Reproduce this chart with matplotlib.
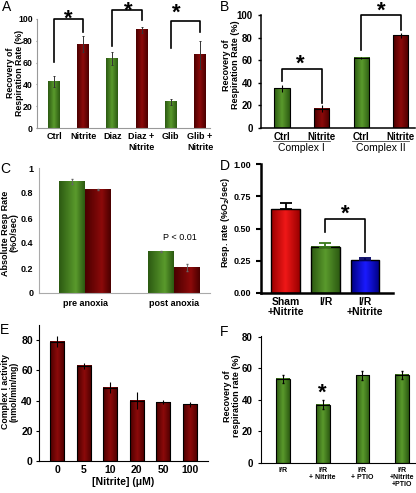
import numpy as np
import matplotlib
matplotlib.use('Agg')
import matplotlib.pyplot as plt
from matplotlib.colors import LinearSegmentedColormap

plt.rcParams['font.family'] = ['Liberation Sans', 'DejaVu Sans']

# ---- data ----
a_labels = ['Ctrl', 'Nitrite', 'Diaz', 'Diaz +\nNitrite', 'Glib', 'Glib +\nNitrite']
a_vals = [43, 77, 64, 90, 24, 67]
a_err = [5, 7, 6, 3, 3, 13]

b_labels = ['Ctrl', 'Nitrite', 'Ctrl', 'Nitrite']
b_groups = ['Complex I', 'Complex II']
b_vals = [35, 17, 62, 82]
b_err = [3, 3, 1, 2]

c_groups = ['pre anoxia', 'post anoxia']
c_green = [0.89, 0.33]
c_green_err = [0.02, 0.005]
c_red = [0.83, 0.205]
c_red_err = [0.005, 0.03]

d_labels = ['Sham\n+Nitrite', 'I/R', 'I/R\n+Nitrite']
d_vals = [0.65, 0.36, 0.255]
d_err = [0.05, 0.03, 0.015]

e_labels = ['0', '5', '10', '20', '50', '100']
e_vals = [79, 63, 48.5, 40, 39, 37.5]
e_err = [3.5, 2, 3.5, 5.5, 1.5, 1.5]

f_labels = ['I/R', 'I/R\n+ Nitrite', 'I/R\n+ PTIO', 'I/R\n+Nitrite\n+PTIO']
f_vals = [53.5, 37, 55.5, 56]
f_err = [2.5, 3, 3, 2.5]

GREEN = ('#2c5a12', '#5a9a2c')
RED = ('#4a0000', '#8c0a0a')
BRED = ('#9a0000', '#f01818')
BBLUE = ('#000080', '#1a1aff')

W, H = 416, 493


def axes_px(l, r, b, t):
    return fig.add_axes([l / W, 1 - b / H, (r - l) / W, (b - t) / H])


def ylabel_px(txt, cx, cy, fs=6.5):
    fig.text(cx / W, 1 - cy / H, txt, rotation=90, ha='center', va='center',
             fontsize=fs, fontweight='bold', linespacing=0.95)


def grad_bars(ax, x, h, w, cols, ec='none', lw=0, peak=0.55):
    bars = ax.bar(x, h, w, color='none', edgecolor=ec, linewidth=lw, zorder=3)
    cmap = LinearSegmentedColormap.from_list('g', [(0, cols[0]), (peak, cols[1]), (1, cols[0])])
    for b in bars:
        x0, y0 = b.get_x(), b.get_y()
        ax.imshow(np.linspace(0, 1, 64)[None, :], cmap=cmap, aspect='auto',
                  extent=(x0, x0 + b.get_width(), y0, y0 + b.get_height()), zorder=2)
    return bars


def star(ax, x, y):
    # shift down so the glyph (which sits high in its box) is centred on y
    ax.annotate('*', xy=(x, y), xytext=(0, -4.5), textcoords='offset points',
                ha='center', va='center', fontsize=16, fontweight='bold', annotation_clip=False)


def bracket(ax, x1, x2, top, y1, y2, star_y, star_x=None, lw=1.2):
    ax.plot([x1, x1, x2, x2], [y1, top, top, y2], color='black', lw=lw, clip_on=False, zorder=5)
    star(ax, (x1 + x2) / 2 if star_x is None else star_x, star_y)


fig = plt.figure(figsize=(W / 100, H / 100), dpi=100)

# ---- A ----
ax = axes_px(37, 210, 128, 19)
xa = np.arange(len(a_vals))
cols = [GREEN, RED] * 3
for i in xa:
    grad_bars(ax, [i], [a_vals[i]], 0.41, cols[i], peak=0.5)
    ax.errorbar(i, a_vals[i], yerr=a_err[i], color='#333333', lw=0.7, capsize=1, capthick=0.7, zorder=4)
ax.set_xlim(-0.58, 5.34)
ax.set_ylim(0, 100)
ax.set_yticks([0, 20, 40, 60, 80, 100])
ax.set_xticks(xa)
ax.set_xticklabels(a_labels, fontsize=6.5, fontweight='bold')
ax.tick_params(axis='y', labelsize=6.3, length=1, pad=2, color='#888888')
ax.tick_params(axis='x', length=0, pad=3)
for t in ax.get_yticklabels():
    t.set_fontweight('bold')
for s in ['top', 'right']:
    ax.spines[s].set_visible(False)
for s in ['left', 'bottom']:
    ax.spines[s].set_color('#999999')
    ax.spines[s].set_linewidth(0.8)
ylabel_px('Recovery of\nRespiration Rate (%)', 15, 73, fs=6.3)
bracket(ax, 0, 1, 100, 61, 88, 105.5)
bracket(ax, 2, 3, 108, 75, 99, 113, star_x=2.55)
bracket(ax, 4, 5, 98, 73, 88, 111, star_x=4.2)

# ---- B ----
ax = axes_px(261, 415, 128, 15)
xb = np.arange(len(b_vals))
cols = [GREEN, RED, GREEN, RED]
for i in xb:
    grad_bars(ax, [i], [b_vals[i]], 0.38, cols[i], ec='black', lw=0.8, peak=0.5)
    ax.errorbar(i, b_vals[i], yerr=b_err[i], color='black', lw=0.8, capsize=0, zorder=4)
ax.set_xlim(-0.53, 3.36)
ax.set_ylim(0, 100)
ax.set_yticks([0, 20, 40, 60, 80, 100])
ax.set_xticks(xb)
ax.set_xticklabels(b_labels, fontsize=7, fontweight='bold')
ax.tick_params(axis='y', labelsize=7, length=2.5, width=1)
ax.tick_params(axis='x', length=0, pad=3)
for t in ax.get_yticklabels():
    t.set_fontweight('bold')
for s in ['top', 'right']:
    ax.spines[s].set_visible(False)
for s in ['left', 'bottom']:
    ax.spines[s].set_linewidth(1.1)
ylabel_px('Recovery of\nRespiration Rate (%)', 231, 65)
for g, name in enumerate(b_groups):
    x0, x1 = 2 * g - 0.22, 2 * g + 1.22
    ax.plot([x0, x1], [-11.5, -11.5], color='#444444', lw=0.6, clip_on=False)
    ax.text(2 * g + 0.5, -13, name, ha='center', va='top', fontsize=7.5)
bracket(ax, 0, 1, 52, 42, 22, 62, star_x=0.45)
bracket(ax, 2, 3, 100, 69, 87, 109, star_x=2.5)

# ---- C ----
ax = axes_px(39, 210, 293, 168)
xc = np.arange(len(c_groups))
grad_bars(ax, xc - 0.145, c_green, 0.29, GREEN, peak=0.65)
grad_bars(ax, xc + 0.145, c_red, 0.29, RED, peak=0.65)
ax.errorbar(xc - 0.145, c_green, yerr=c_green_err, fmt='none', ecolor='#666666', lw=0.6, capsize=1, zorder=4)
ax.errorbar(xc + 0.145, c_red, yerr=c_red_err, fmt='none', ecolor='#666666', lw=0.6, capsize=1, zorder=4)
ax.set_xlim(-0.52, 1.41)
ax.set_ylim(0, 1)
ax.set_yticks([0, 0.2, 0.4, 0.6, 0.8, 1])
ax.set_yticklabels(['0', '0.2', '0.4', '0.6', '0.8', '1'], fontsize=6.5, fontweight='bold')
ax.set_xticks(xc)
ax.set_xticklabels(c_groups, fontsize=6.5, fontweight='bold')
ax.tick_params(axis='both', length=0, pad=4)
for s in ['top', 'right']:
    ax.spines[s].set_visible(False)
for s in ['left', 'bottom']:
    ax.spines[s].set_color('#aaaaaa')
    ax.spines[s].set_linewidth(0.8)
ylabel_px('Absolute Resp Rate\n(%O/sec)', 10, 233)
ax.text(1.07, 0.44, 'P < 0.01', ha='center', va='center', fontsize=6.5)

# ---- D ----
ax = axes_px(261, 393, 293, 164)
xd = np.arange(len(d_vals))
dcols = [BRED, GREEN, BBLUE]
ecols = ['black', '#3a7a1a', '#000060']
for i in xd:
    grad_bars(ax, [i], [d_vals[i]], 0.73, dcols[i], ec='black', lw=1.0, peak=0.5)
    ax.errorbar(i, d_vals[i], yerr=[[0], [d_err[i]]], color=ecols[i], lw=1.3, capsize=4.5, capthick=1.3, zorder=4)
ax.set_xlim(-0.63, 2.71)
ax.set_ylim(0, 1.0)
ax.set_yticks([0, 0.25, 0.5, 0.75, 1.0])
ax.set_yticklabels(['0.00', '0.25', '0.50', '0.75', '1.00'], fontsize=6.5, fontweight='bold')
ax.set_xticks(xd)
ax.set_xticklabels(d_labels, fontsize=7.5, fontweight='bold', linespacing=0.95)
ax.tick_params(axis='y', length=3.5, width=1.5)
ax.tick_params(axis='x', length=0, pad=3)
for s in ['top', 'right']:
    ax.spines[s].set_visible(False)
for s in ['left', 'bottom']:
    ax.spines[s].set_linewidth(1.8)
ylabel_px('Resp. rate (%O$_\\mathbf{2}$/sec)', 226, 223)
bracket(ax, 1, 2, 0.57, 0.475, 0.32, 0.66)

# ---- E ----
ax = axes_px(39, 208, 461, 325)
xe = np.arange(len(e_vals))
grad_bars(ax, xe, e_vals, 0.53, RED, ec='black', lw=0.8, peak=0.5)
ax.errorbar(xe, e_vals, yerr=e_err, fmt='none', ecolor='black', lw=0.8, capsize=0, zorder=4)
ax.set_xlim(-0.68, 5.68)
ax.set_ylim(0, 90)
ax.set_yticks([0, 20, 40, 60, 80])
ax.set_xticks(xe)
ax.set_xticklabels(e_labels, fontsize=7.5, fontweight='bold')
ax.tick_params(axis='y', labelsize=7.5, length=2.5, width=0.8, pad=2)
ax.tick_params(axis='x', length=0, pad=3)
for t in ax.get_yticklabels():
    t.set_fontweight('bold')
for s in ['top', 'right']:
    ax.spines[s].set_visible(False)
ax.set_xlabel('[Nitrite] (μM)', fontsize=7.5, fontweight='bold', labelpad=1)
ylabel_px('Complex I activity\n(nmol/min/mg)', 10, 392, fs=6.3)

# ---- F ----
ax = axes_px(261, 415, 463, 336)
xf = np.arange(len(f_vals))
grad_bars(ax, xf, f_vals, 0.35, GREEN, ec='black', lw=0.8, peak=0.5)
ax.errorbar(xf, f_vals, yerr=f_err, fmt='none', ecolor='black', lw=0.8, capsize=1, zorder=4)
ax.set_xlim(-0.55, 3.32)
ax.set_ylim(0, 80.5)
ax.set_yticks([0, 20, 40, 60, 80])
ax.set_xticks(xf)
ax.set_xticklabels(f_labels, fontsize=5, fontweight='bold', linespacing=0.95)
ax.tick_params(axis='y', labelsize=7, length=2.5, width=0.8)
ax.tick_params(axis='x', length=0, pad=3)
for t in ax.get_yticklabels():
    t.set_fontweight('bold')
for s in ['top', 'right']:
    ax.spines[s].set_visible(False)
ylabel_px('Recovery of\nrespiration rate (%)', 232, 396)
star(ax, 1, 48)

# ---- panel letters ----
for lab, (px, py) in zip('ABCDEF', [(2, 0), (220, 0), (0, 162), (220, 159), (0, 323), (220, 325)]):
    fig.text(px / W, 1 - py / H, lab, ha='left', va='top', fontsize=10)

fig.savefig('out.png', dpi=100)
